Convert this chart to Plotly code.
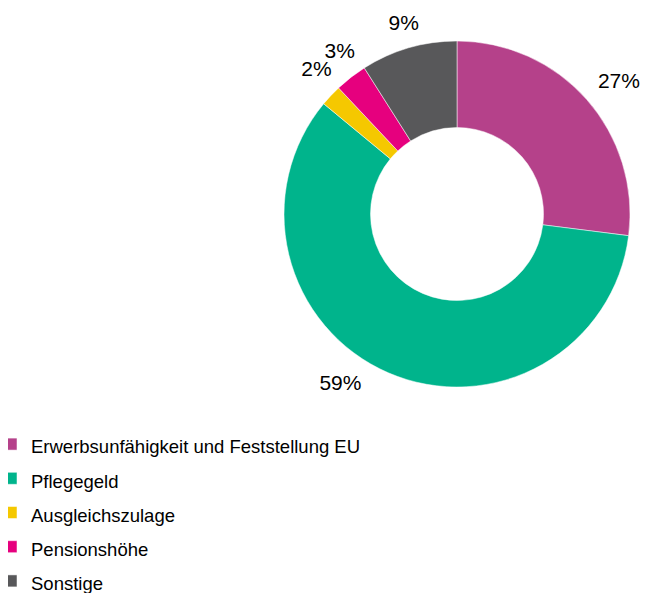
import plotly.graph_objects as go

labels = ["Erwerbsunfähigkeit und Feststellung EU", "Pflegegeld", "Ausgleichszulage", "Pensionshöhe", "Sonstige"]
values = [27, 59, 2, 3, 9]
colors = ["#B5418A", "#00B48C", "#F5C800", "#E6007E", "#58585A"]

W, H = 649, 593
OFF = 8  # default body margin of the html page
cx, cy, R = 457 - OFF, 214 - OFF, 173


def domain(r):
    return dict(x=[(cx - r) / W, (cx + r) / W], y=[(H - cy - r) / H, (H - cy + r) / H])


legend_labels = [f"<span style='font-size:18.5px'>{l}</span>" for l in labels]
pct_text = [f"{v}%" for v in values]

fig = go.Figure()

# the donut itself (also provides the legend)
fig.add_trace(go.Pie(
    labels=legend_labels,
    values=values,
    hole=0.5,
    sort=False,
    direction="clockwise",
    rotation=0,
    marker=dict(colors=colors, line=dict(color="white", width=0.5)),
    textinfo="none",
    hovertemplate="%{value}%<extra></extra>",
    domain=domain(R),
    showlegend=True,
))

# transparent rings, slightly larger, that only carry the outside labels
# (split so that neighbouring small-slice labels are not pushed aside)
label_rings = [
    dict(idx=[0], r=186, rot=-2),
    dict(idx=[1, 2, 4], r=183, rot=6),
    dict(idx=[3], r=183, rot=6),
]
for ring in label_rings:
    txt = [t if i in ring["idx"] else "" for i, t in enumerate(pct_text)]
    fig.add_trace(go.Pie(
        labels=labels,
        values=values,
        hole=0.9,
        sort=False,
        direction="clockwise",
        rotation=ring["rot"],
        marker=dict(colors=["rgba(0,0,0,0)"] * len(values), line=dict(width=0)),
        text=txt,
        textinfo="text",
        textposition="outside",
        textfont=dict(size=21, color="#000000", family="Liberation Sans, Arial, sans-serif"),
        hoverinfo="skip",
        domain=domain(ring["r"]),
        showlegend=False,
    ))

fig.update_layout(
    width=W, height=H,
    margin=dict(l=0, r=0, t=0, b=0, autoexpand=False),
    paper_bgcolor="white",
    font=dict(family="Liberation Sans, Arial, sans-serif", color="#000000"),
    legend=dict(
        x=-17 / W, y=(H - 414) / H, xanchor="left", yanchor="top",
        font=dict(size=24, color="#000000"),
        bgcolor="rgba(0,0,0,0)",
        itemwidth=30,
    ),
)

fig.write_html("out.html")
